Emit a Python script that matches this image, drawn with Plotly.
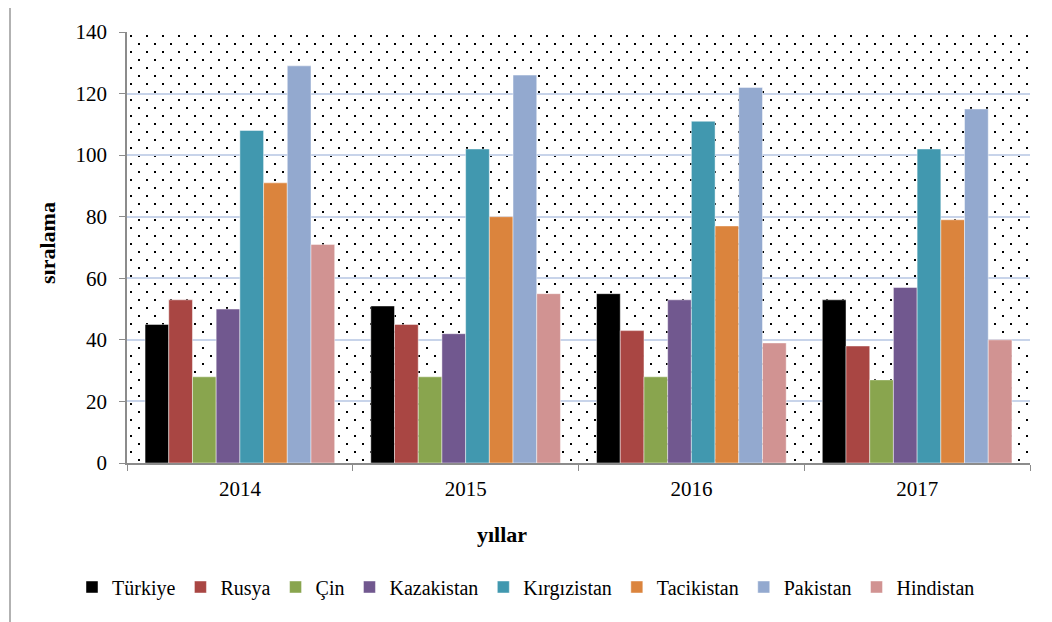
import base64
import plotly.graph_objects as go

years = ["2014", "2015", "2016", "2017"]
countries = ["Türkiye", "Rusya", "Çin", "Kazakistan", "Kırgızistan", "Tacikistan", "Pakistan", "Hindistan"]
turkiye = [45, 51, 55, 53]
rusya = [53, 45, 43, 38]
cin = [28, 28, 28, 27]
kazakistan = [50, 42, 53, 57]
kirgizistan = [108, 102, 111, 102]
tacikistan = [91, 80, 77, 79]
pakistan = [129, 126, 122, 115]
hindistan = [71, 55, 39, 40]
series = [turkiye, rusya, cin, kazakistan, kirgizistan, tacikistan, pakistan, hindistan]
colors = ["#000000", "#A94643", "#89A54E", "#71588F", "#4198AF", "#DB843D", "#93A9CF", "#D19392"]

# page body has an 8px margin; compensate so the plot lands on the target pixels
OFF = 8
W, H = 1052 - OFF, 622 - OFF
ML, MR, MT, MB = 127 - OFF, 22, 32 - OFF, 159
PW, PH = W - ML - MR, H - MT - MB


def px_x(x):
    return (x - OFF - ML) / PW


def px_y(y):
    return (MT + PH - (y - OFF)) / PH


fig = go.Figure()
for name, vals, col in zip(countries, series, colors):
    fig.add_trace(go.Bar(
        x=years, y=vals, name=name,
        marker=dict(color=col, line=dict(color="rgba(255,255,255,0.45)", width=1)),
    ))

# dotted background pattern
svg = (
    f'<svg xmlns="http://www.w3.org/2000/svg" width="{PW}" height="{PH}">'
    '<defs><pattern id="p" width="16" height="16" patternUnits="userSpaceOnUse">'
    '<rect x="3" y="3" width="2" height="2" fill="#000"/>'
    '<rect x="11" y="11" width="2" height="2" fill="#000"/>'
    '</pattern></defs>'
    f'<rect width="{PW}" height="{PH}" fill="#fff"/>'
    f'<rect width="{PW}" height="{PH}" fill="url(#p)"/></svg>'
)
src = "data:image/svg+xml;base64," + base64.b64encode(svg.encode()).decode()

font_family = "Liberation Serif"

fig.update_layout(
    width=W, height=H,
    margin=dict(l=ML, r=MR, t=MT, b=MB, autoexpand=False),
    paper_bgcolor="white",
    plot_bgcolor="rgba(0,0,0,0)",
    barmode="group",
    bargap=0.16,
    bargroupgap=0,
    font=dict(family=font_family, size=21, color="#000"),
    showlegend=True,
    legend=dict(orientation="h", x=px_x(72), xanchor="left", y=px_y(587), yanchor="middle",
                font=dict(family=font_family, size=20), itemwidth=30, traceorder="normal",
                bgcolor="rgba(0,0,0,0)"),
    images=[dict(source=src, xref="paper", yref="paper", x=0, y=1, sizex=1, sizey=1,
                 sizing="stretch", layer="below", xanchor="left", yanchor="top")],
    xaxis=dict(showgrid=False, showline=True, linecolor="#8c8c8c", linewidth=1.5,
               ticks="outside", tickson="boundaries", ticklen=6, tickcolor="#8c8c8c",
               tickfont=dict(family=font_family, size=21), ticklabelstandoff=6),
    yaxis=dict(range=[0, 140], dtick=20, showgrid=True, gridcolor="#c8d4ea", gridwidth=2,
               showline=True, linecolor="#8c8c8c", linewidth=1.5, ticks="outside", ticklen=6,
               tickcolor="#8c8c8c", tickfont=dict(family=font_family, size=21),
               ticklabelstandoff=8, zeroline=False),
    annotations=[
        dict(text="<b>yıllar</b>", xref="paper", yref="paper", x=px_x(502), y=px_y(534),
             showarrow=False, font=dict(family=font_family, size=22), xanchor="center", yanchor="middle"),
        dict(text="<b>sıralama</b>", xref="paper", yref="paper", x=px_x(48), y=px_y(243),
             showarrow=False, font=dict(family=font_family, size=22), textangle=-90,
             xanchor="center", yanchor="middle"),
    ],
    shapes=[
        dict(type="line", xref="paper", yref="paper", x0=px_x(10), x1=px_x(10),
             y0=px_y(3), y1=px_y(640), line=dict(color="#999999", width=1.5)),
        dict(type="line", xref="paper", yref="paper", x0=px_x(10), x1=px_x(1070),
             y0=px_y(3), y1=px_y(3), line=dict(color="#999999", width=1.5)),
    ],
)

fig.write_html("out.html")
